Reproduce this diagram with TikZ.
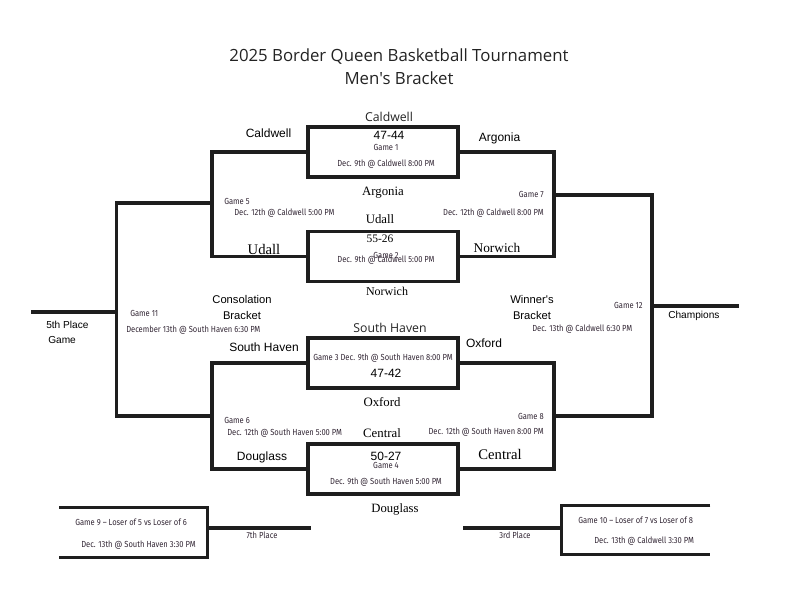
\documentclass[tikz,border=0pt]{standalone}
\usepackage{fontspec}
\setmainfont{Liberation Serif}
\newfontfamily\arialf{Liberation Sans}
\newfontfamily\opensf{Open Sans}
\newfontfamily\condf[FakeStretch=0.86]{Fira Sans}
\definecolor{linec}{RGB}{30,30,30}
\definecolor{smc}{RGB}{50,38,52}
\definecolor{titc}{RGB}{35,35,35}
\begin{document}
\begin{tikzpicture}[x=0.75pt,y=-0.75pt,
  link/.style={draw=linec,line width=2.3pt},
  gamebox/.style={draw=linec,line width=2.3pt,minimum width=112.5pt,minimum height=37.5pt,inner sep=0pt},
  openbox/.style={minimum width=111pt,minimum height=37pt,inner sep=0pt},
  sm/.style={font=\condf\fontsize{6.6}{8}\selectfont,text=smc,inner sep=0pt},
  ar/.style={font=\arialf\fontsize{9}{11}\selectfont,inner sep=0pt},
  arsm/.style={font=\arialf\fontsize{7.6}{9}\selectfont,inner sep=0pt},
  sf/.style={font=\fontsize{9.6}{11}\selectfont,inner sep=0pt},
  os/.style={font=\opensf\fontsize{9.2}{11}\selectfont,text=titc,inner sep=0pt},
  title/.style={font=\opensf\fontsize{12.6}{15}\selectfont,text=titc,inner sep=0pt}]
\useasboundingbox (0,0) rectangle (805,605);

% title
\node[title] (t1) at (399,57) {2025 Border Queen Basketball Tournament};
\node[title] (t2) at (399,78) {Men's Bracket};

% game boxes
\node[gamebox] (g1) at (383,152) {};
\node[gamebox] (g2) at (383,256.5) {};
\node[gamebox] (g3) at (383,363) {};
\node[gamebox] (g4) at (383,469) {};
\node[openbox] (g9) at (133.5,532.5) {};
\node[openbox] (g10) at (636,530) {};

% bracket coordinates
\coordinate (c5) at (212,203);
\coordinate (c6) at (212,416);
\coordinate (c7) at (554,195);
\coordinate (c8) at (554,416);
\coordinate (c11) at (116.5,312);
\coordinate (c12) at (652,306);
\coordinate (fifth) at (31,312);
\coordinate (champ) at (739,306);
\coordinate (seventh) at (311,528);
\coordinate (third) at (463,528);

% connectors
\draw[link] (g1.west) -| (c5) |- (g2.west);
\draw[link] (g3.west) -| (c6) |- (g4.west);
\draw[link] (g1.east) -| (c7) |- (g2.east);
\draw[link] (g3.east) -| (c8) |- (g4.east);
\draw[link] (c5) -| (c11) |- (c6);
\draw[link] (c11) -- (fifth);
\draw[link] (c7) -| (c12) |- (c8);
\draw[link] (c12) -- (champ);
\draw[link] (g9.north west) -- (g9.north east) -- (g9.south east) -- (g9.south west);
\draw[link] (seventh -| g9.east) -- (seventh);
\draw[link] (g10.north east) -- (g10.north west) -- (g10.south west) -- (g10.south east);
\draw[link] (third -| g10.west) -- (third);

% game 1
\node[os] (n1) at (389,117) {Caldwell};
\node[ar] (n2) at (268.5,133) {Caldwell};
\node[ar] (s1) at (389,135) {47-44};
\node[sm] (l1) at (386,147) {Game 1};
\node[sm] (d1) at (386,164) {Dec. 9th @ Caldwell 8:00 PM};
\node[ar] (n3) at (499.5,138) {Argonia};
% game 5/7 middle
\node[sf] (n4) at (383,193) {Argonia};
\node[sf] (n5) at (380,219) {Udall};
\node[sm,anchor=west] (l5) at (224,201) {Game 5};
\node[sm,anchor=west] (d5) at (234,213) {Dec. 12th @ Caldwell 5:00 PM};
\node[sm,anchor=east] (l7) at (544,194) {Game 7};
\node[sm,anchor=east] (d7) at (544,213) {Dec. 12th @ Caldwell 8:00 PM};
% game 2
\node[sf,font=\fontsize{8.6}{10}\selectfont] (s2) at (380,239) {55-26};
\node[sm] (l2) at (386,255) {Game 2};
\node[sm] (d2) at (386,260) {Dec. 9th @ Caldwell 5:00 PM};
\node[sf,font=\fontsize{11}{12}\selectfont] (n6) at (264,249) {Udall};
\node[sf,font=\fontsize{10}{12}\selectfont] (n7) at (497,248) {Norwich};
\node[sf,font=\fontsize{9}{11}\selectfont] (n8) at (387,291) {Norwich};
% consolation / winners
\node[ar,font=\arialf\fontsize{8.4}{10}\selectfont,align=center] (cb) at (242,307.5) {Consolation\\[1.5pt]Bracket};
\node[ar,font=\arialf\fontsize{8.4}{10}\selectfont,align=center] (wb) at (532,307.5) {Winner's\\[1.5pt]Bracket};
\node[sm,anchor=west] (l11) at (130,313) {Game 11};
\node[sm,anchor=west] (d11) at (126,330) {December 13th @ South Haven 6:30 PM};
\node[sm,anchor=east] (l12) at (643,305) {Game 12};
\node[sm,anchor=west] (d12) at (532,329) {Dec. 13th @ Caldwell 6:30 PM};
\node[arsm,anchor=west] (p5a) at (46,325) {5th Place};
\node[arsm,anchor=west] (p5b) at (48,340) {Game};
\node[arsm,anchor=west] (ch) at (668,316) {Champions};
% game 3
\node[os] (n9) at (390,328) {South Haven};
\node[ar] (n10) at (264,347) {South Haven};
\node[ar] (n11) at (484,343) {Oxford};
\node[sm] (d3) at (383,358) {Game 3 Dec. 9th @ South Haven 8:00 PM};
\node[ar] (s3) at (386,373) {47-42};
% game 6/8 middle
\node[sf] (n12) at (382,402) {Oxford};
\node[sf] (n13) at (382,433) {Central};
\node[sm,anchor=west] (l6) at (224,420) {Game 6};
\node[sm,anchor=west] (d6) at (227,433) {Dec. 12th @ South Haven 5:00 PM};
\node[sm,anchor=east] (l8) at (544,416) {Game 8};
\node[sm,anchor=east] (d8) at (544,432) {Dec. 12th @ South Haven 8:00 PM};
% game 4
\node[ar] (n14) at (262,457) {Douglass};
\node[ar] (s4) at (386,456) {50-27};
\node[sm] (l4) at (386,465) {Game 4};
\node[sm] (d4) at (386,482) {Dec. 9th @ South Haven 5:00 PM};
\node[sf,font=\fontsize{11}{12}\selectfont] (n15) at (500,454) {Central};
\node[sf,font=\fontsize{9.5}{11}\selectfont] (n16) at (395,509) {Douglass};
% game 9 / 10
\node[sm,anchor=west] (l9) at (75,522) {Game 9 – Loser of 5 vs Loser of 6};
\node[sm,anchor=west] (d9) at (81,545) {Dec. 13th @ South Haven 3:30 PM};
\node[sm] (p7) at (262,535) {7th Place};
\node[sm,anchor=west] (l10) at (578,520) {Game 10 – Loser of 7 vs Loser of 8};
\node[sm,anchor=west] (d10) at (594,541) {Dec. 13th @ Caldwell 3:30 PM};
\node[sm] (p3) at (515,535) {3rd Place};
\end{tikzpicture}
\end{document}
